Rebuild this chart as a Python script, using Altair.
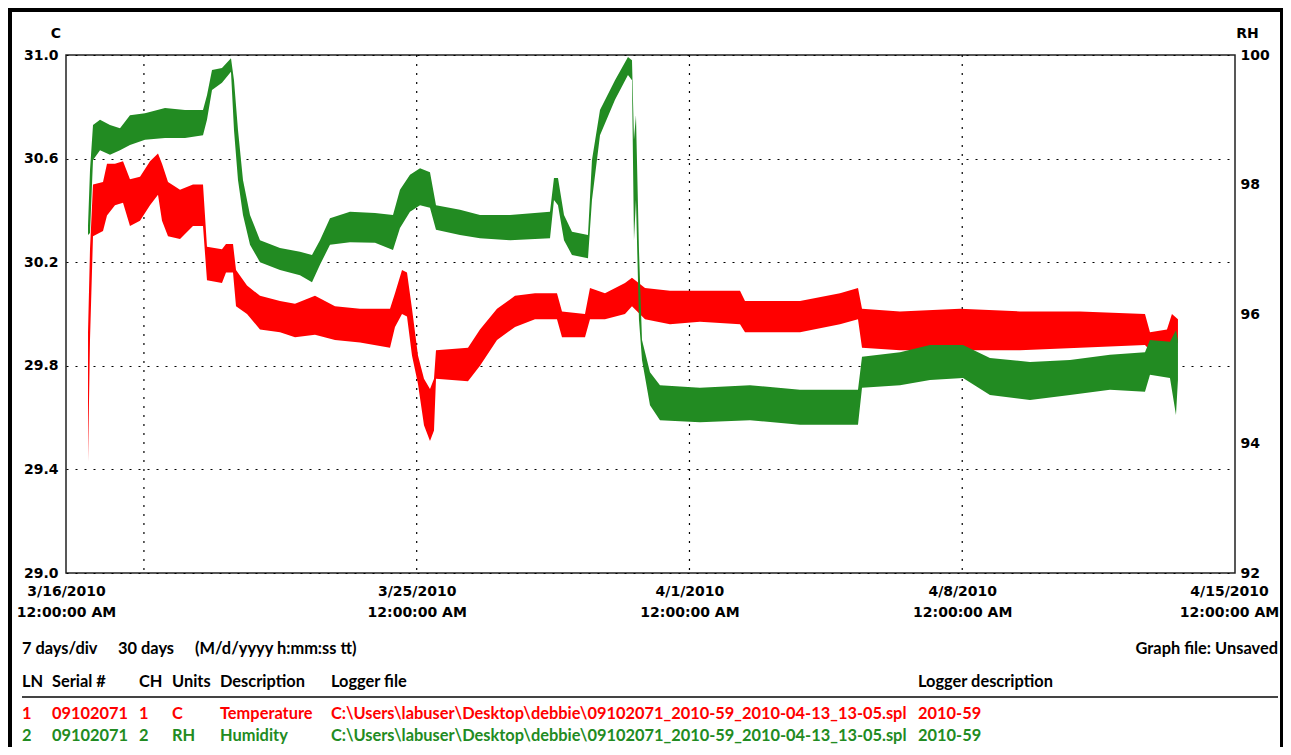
import altair as alt
import pandas as pd

START = pd.Timestamp("2010-03-16", tz="UTC")

# ---- Temperature (C) band: day offset from 3/16/2010, upper and lower envelope
temp_day = [0.565, 0.616, 0.693, 0.950, 1.052, 1.257, 1.463, 1.642, 1.899, 2.156,
            2.361, 2.464, 2.618, 2.926, 3.259, 3.516, 3.618, 4.003, 4.106, 4.286,
            4.363, 4.645, 4.979, 5.492, 5.877, 6.390, 6.903, 7.545, 8.315, 8.443,
            8.623, 8.751, 8.879, 9.033, 9.187, 9.341, 9.444, 9.495, 10.316, 10.624,
            11.061, 11.523, 12.036, 12.600, 12.729, 13.319, 13.447, 13.832, 14.345, 14.525,
            14.859, 15.500, 16.270, 17.297, 17.425, 18.837, 19.863, 20.325, 20.428, 21.403,
            22.943, 24.482, 26.022, 27.690, 27.818, 28.254, 28.382, 28.536]
temp_hi = [29.93, 30.25, 30.50, 30.51, 30.58, 30.58, 30.59, 30.52, 30.53, 30.59,
           30.62, 30.58, 30.51, 30.48, 30.50, 30.50, 30.26, 30.25, 30.27, 30.27,
           30.17, 30.11, 30.07, 30.05, 30.04, 30.07, 30.03, 30.02, 30.02, 30.08,
           30.17, 30.16, 30.02, 29.84, 29.75, 29.71, 29.75, 29.86, 29.87, 29.94,
           30.02, 30.07, 30.08, 30.08, 30.01, 30.00, 30.10, 30.08, 30.12, 30.14,
           30.10, 30.09, 30.09, 30.09, 30.05, 30.05, 30.08, 30.10, 30.02, 30.01,
           30.02, 30.01, 30.01, 30.00, 29.93, 29.94, 30.00, 29.98]
temp_lo = [29.43, 29.90, 30.30, 30.32, 30.38, 30.42, 30.43, 30.34, 30.36, 30.42,
           30.46, 30.36, 30.30, 30.29, 30.34, 30.34, 30.13, 30.12, 30.16, 30.16,
           30.03, 30.00, 29.94, 29.93, 29.91, 29.92, 29.90, 29.89, 29.87, 29.95,
           30.00, 29.99, 29.84, 29.73, 29.57, 29.51, 29.55, 29.75, 29.74, 29.80,
           29.90, 29.95, 29.98, 29.98, 29.91, 29.91, 29.98, 29.98, 30.00, 30.03,
           29.98, 29.96, 29.97, 29.96, 29.93, 29.93, 29.96, 29.98, 29.87, 29.86,
           29.86, 29.86, 29.87, 29.88, 29.86, 29.86, 29.87, 29.89]

# ---- Humidity (RH) band
rh_day = [0.565, 0.616, 0.693, 0.873, 1.129, 1.386, 1.642, 2.027, 2.541, 3.054,
          3.516, 3.618, 3.747, 4.003, 4.234, 4.311, 4.414, 4.542, 4.722, 4.979,
          5.492, 6.005, 6.313, 6.518, 6.775, 7.288, 7.930, 8.392, 8.571, 8.828,
          9.085, 9.341, 9.495, 10.111, 10.624, 11.394, 12.421, 12.523, 12.626, 12.780,
          12.985, 13.396, 13.498, 13.704, 14.089, 14.422, 14.525, 14.576, 14.627, 14.704,
          14.782, 14.987, 15.243, 16.270, 17.553, 18.837, 20.325, 20.428, 21.403, 22.173,
          23.020, 23.712, 24.739, 25.765, 26.792, 27.690, 27.818, 28.331, 28.485, 28.536]
rh_hi = [97.37, 98.22, 98.92, 99.00, 98.92, 98.87, 99.07, 99.10, 99.18, 99.15,
         99.15, 99.38, 99.77, 99.80, 99.95, 99.61, 98.84, 98.07, 97.53, 97.14,
         97.02, 96.96, 96.91, 97.14, 97.48, 97.58, 97.56, 97.53, 97.92, 98.15,
         98.25, 98.19, 97.68, 97.61, 97.53, 97.53, 97.58, 98.10, 98.10, 97.53,
         97.27, 97.22, 98.38, 99.15, 99.61, 99.97, 99.92, 98.69, 99.07, 96.99,
         95.60, 95.10, 94.90, 94.86, 94.90, 94.83, 94.83, 95.34, 95.41, 95.52,
         95.52, 95.32, 95.26, 95.29, 95.37, 95.41, 95.60, 95.57, 95.75, 95.60]
rh_lo = [97.22, 97.25, 98.38, 98.53, 98.46, 98.53, 98.61, 98.69, 98.72, 98.72,
         98.76, 99.00, 99.46, 99.57, 99.74, 98.84, 98.07, 97.53, 97.07, 96.80,
         96.68, 96.60, 96.49, 96.76, 97.07, 97.11, 97.10, 96.99, 97.33, 97.58,
         97.68, 97.64, 97.30, 97.22, 97.17, 97.14, 97.17, 97.76, 97.68, 97.14,
         96.91, 96.86, 97.76, 98.76, 99.31, 99.69, 99.61, 97.14, 97.76, 95.91,
         95.29, 94.59, 94.36, 94.33, 94.36, 94.29, 94.29, 94.86, 94.90, 94.98,
         95.01, 94.75, 94.67, 94.75, 94.83, 94.80, 95.06, 95.01, 94.44, 94.98]

x_label_days = [0, 9, 16, 23, 30]     # 3/16, 3/25, 4/1, 4/8, 4/15
x_grid_days = [2, 9, 16, 23]          # 3/18, 3/25, 4/1, 4/8
c_ticks = [29.0, 29.4, 29.8, 30.2, 30.6, 31.0]
rh_ticks = [92, 94, 96, 98, 100]

logger_path = r"C:\Users\labuser\Desktop\debbie\09102071_2010-59_2010-04-13_13-05.spl"
header = ["LN", "Serial #", "CH", "Units", "Description", "Logger file", "Logger description"]
row1 = ["1", "09102071", "1", "C", "Temperature", logger_path, "2010-59"]
row2 = ["2", "09102071", "2", "RH", "Humidity", logger_path, "2010-59"]

RED = "#ff0000"
GREEN = "#228b22"


def to_ms(days):
    return [int((START + pd.Timedelta(days=d)).value // 10**6) for d in days]


temp_df = pd.DataFrame({"t": to_ms(temp_day), "hi": temp_hi, "lo": temp_lo})
rh_df = pd.DataFrame({"t": to_ms(rh_day), "hi": rh_hi, "lo": rh_lo})
grid_df = pd.DataFrame({"t": to_ms(x_grid_days)})

W, H = 1169, 518
label_ms = to_ms(x_label_days)
last_ms = label_ms[-1]

x_enc = alt.X(
    "t:T",
    scale=alt.Scale(type="utc", domain=[label_ms[0], label_ms[-1]]),
    axis=alt.Axis(
        values=label_ms,
        labelExpr="[utcFormat(datum.value, '%-m/%-d/%Y'), '12:00:00 AM']",
        labelFlush=False, labelOverlap=False, labelPadding=11, labelLineHeight=21,
        labelOffset={"expr": f"datum.value >= {last_ms} ? -6 : 0"},
        ticks=False, tickSize=0, domain=False, grid=False, title=None,
    ),
)

grid_layer = alt.Chart(grid_df).mark_rule(
    color="black", strokeDash=[2, 7], strokeWidth=1.2
).encode(x=alt.X("t:T"))

temp_layer = alt.Chart(temp_df).mark_area(color=RED, opacity=1).encode(
    x=x_enc,
    y=alt.Y(
        "hi:Q",
        scale=alt.Scale(domain=[29.0, 31.0], nice=False, zero=False),
        axis=alt.Axis(
            orient="left", values=c_ticks, format=".1f", title="C", titleAngle=0,
            titleX=-10.5, titleY=-21.5, titleAlign="center", titleBaseline="middle",
            grid=True, gridDash=[2, 7], gridColor="black", gridWidth=1.2,
            ticks=False, tickSize=0, domain=False, labelPadding=8,
        ),
    ),
    y2="lo:Q",
)

rh_layer = alt.Chart(rh_df).mark_area(color=GREEN, opacity=1).encode(
    x=alt.X("t:T"),
    y=alt.Y(
        "hi:Q",
        scale=alt.Scale(domain=[92, 100], nice=False, zero=False),
        axis=alt.Axis(
            orient="right", values=rh_ticks, format="d", title="RH", titleAngle=0,
            titleX=12, titleY=-21.5, titleAlign="center", titleBaseline="middle",
            grid=False, ticks=False, tickSize=0, domain=False, labelPadding=5,
        ),
    ),
    y2="lo:Q",
)

one = alt.Data(values=[{}])


def txt(s, x, y, color="black", align="left"):
    return alt.Chart(one).mark_text(
        text=s, align=align, baseline="middle", font="Lato", fontSize=16.4,
        fontWeight="bold", color=color,
    ).encode(x=alt.value(x), y=alt.value(y))


col_x = [-44, -14, 73, 106, 154, 265, 852]
texts = [
    txt("7 days/div", -44, 594),
    txt("30 days", 52, 594),
    txt("(M/d/yyyy h:mm:ss tt)", 129, 594),
    txt("Graph file: Unsaved", 1212, 594, align="right"),
]
for s, x in zip(header, col_x):
    texts.append(txt(s, x, 627))
for s, x in zip(row1, col_x):
    texts.append(txt(s, x, 659, RED))
for s, x in zip(row2, col_x):
    texts.append(txt(s, x, 681, GREEN))

sep = alt.Chart(one).mark_rule(color="#444", strokeWidth=2).encode(
    x=alt.value(-44), x2=alt.value(1212), y=alt.value(642)
)
frame = alt.Chart(one).mark_rect(
    fill=None, stroke="black", strokeWidth=4
).encode(x=alt.value(-56), x2=alt.value(1216), y=alt.value(-45), y2=alt.value(720))

chart = alt.layer(grid_layer, temp_layer, rh_layer, sep, frame, *texts).resolve_scale(
    y="independent"
).properties(
    width=W, height=H,
    padding={"left": 58, "top": 47, "right": 48, "bottom": 174},
    autosize=alt.AutoSizeParams(type="none"),
    background="white",
).configure_view(
    stroke="#222", strokeWidth=1.5
).configure_axis(
    labelFont="DejaVu Sans", labelFontSize=14, labelFontWeight="bold", labelColor="black",
    titleFont="DejaVu Sans", titleFontSize=14, titleFontWeight="bold", titleColor="black",
)

chart.save("out.html", embed_options={"renderer": "svg", "actions": False})
